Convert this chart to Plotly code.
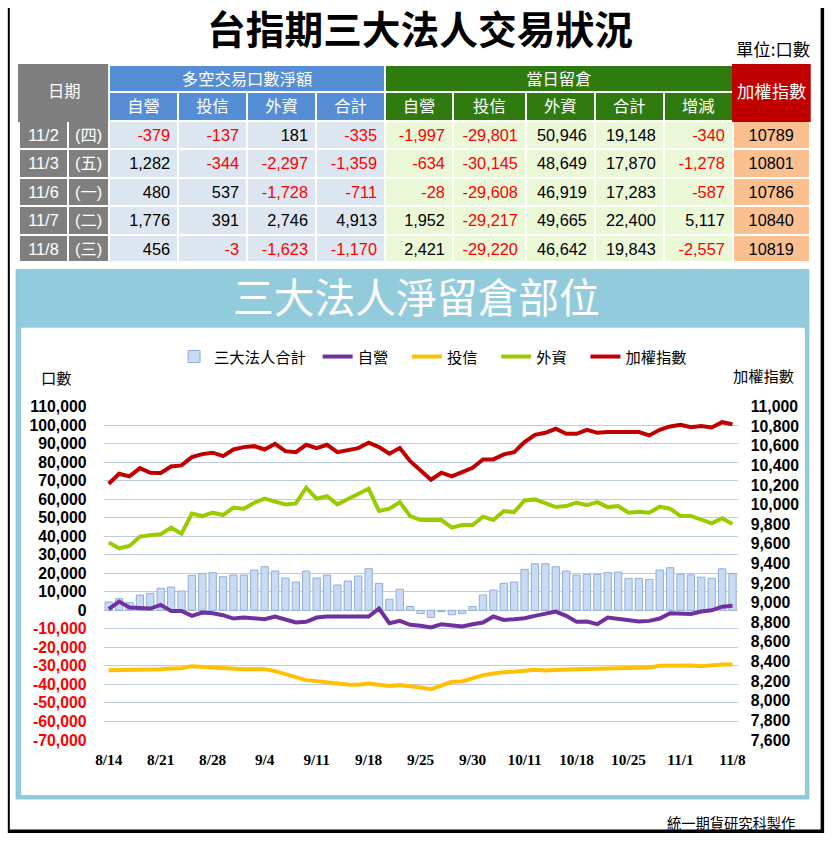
import plotly.graph_objects as go

W, H = 832, 842
# The photographed page is scaled back to 832x842 with an 8px frame around the figure;
# positions below are given in final picture pixels and converted with this mapping.
SX, SY = W / (W + 16), H / (H + 16)
BX, BY = 8 * SX, 8 * SY

# ---------------- chart data ----------------
dates = ['8/14', '8/15', '8/16', '8/17', '8/18', '8/21', '8/22', '8/23', '8/24', '8/25',
         '8/28', '8/29', '8/30', '8/31', '9/1', '9/4', '9/5', '9/6', '9/7', '9/8',
         '9/11', '9/12', '9/13', '9/14', '9/15', '9/18', '9/19', '9/20', '9/21', '9/22',
         '9/25', '9/26', '9/27', '9/28', '9/29', '9/30', '10/2', '10/3', '10/5', '10/6',
         '10/11', '10/12', '10/13', '10/16', '10/17', '10/18', '10/19', '10/20', '10/23', '10/24',
         '10/25', '10/26', '10/27', '10/30', '10/31', '11/1', '11/2', '11/3', '11/6', '11/7', '11/8']

total_oi = [4490, 6290, 4130, 8260, 9160, 11850, 12570, 10420, 18860, 19760,
            20290, 18140, 19040, 19040, 21730, 23530, 21190, 17420, 15270, 21190,
            17420, 19040, 13650, 15800, 18500, 22450, 14550, 5930, 11370, 2050,
            -1800, -3800, -700, -2400, -1800, 2050, 8260, 10960, 14550, 15270,
            22090, 25140, 25140, 23530, 21190, 19040, 19400, 19400, 20300, 20650,
            17240, 17240, 16700, 21730, 22990, 19400, 19148, 17870, 17283, 22400, 19843]

dealer_oi = [590, 4730, 1490, 950, 950, 2930, -310, -310, -3000, -1200,
             -1560, -2640, -4440, -3900, -4260, -4800, -3360, -4800, -6590, -6230,
             -3900, -3360, -3360, -3360, -3360, -3360, 950, -6950, -5700, -7850,
             -8390, -9290, -7490, -8030, -8750, -7490, -6590, -3360, -5160, -4800,
             -4260, -3000, -1560, -660, -3000, -6230, -6050, -7490, -3900, -4800,
             -5160, -6050, -5700, -4440, -1560, -1560, -1997, -634, -28, 1952, 2421]

trust_oi = [-32290, -32290, -32290, -31930, -31930, -31750, -31390, -31210, -30140, -30490,
            -31030, -31390, -31570, -31750, -31750, -31750, -32830, -34450, -35880, -37680,
            -38220, -38580, -39470, -40010, -40190, -39470, -40190, -40910, -40370, -40730,
            -41630, -42530, -40730, -38580, -38400, -36780, -34990, -34090, -33370, -33190,
            -32470, -32110, -32470, -31930, -31930, -31750, -31570, -31570, -31390, -31210,
            -30850, -30670, -30850, -29950, -29770, -29770, -29801, -30145, -29608, -29217, -29220]

foreign_oi = [36540, 33470, 34710, 39770, 40470, 41010, 44620, 41390, 52170, 50870,
              52700, 51410, 55400, 54860, 58090, 60250, 58630, 57180, 57720, 66180,
              60250, 61650, 57180, 59870, 63110, 65640, 53570, 54860, 58420, 50870,
              48720, 48720, 48720, 44620, 46020, 46020, 50550, 48720, 53570, 53030,
              59330, 59870, 57720, 55720, 56260, 58090, 56800, 58420, 55720, 56260,
              52700, 53240, 52700, 55940, 54860, 50870, 50946, 48649, 46919, 49665, 46642]

taiex = [10213, 10315, 10288, 10372, 10325, 10322, 10389, 10400, 10484, 10515,
         10529, 10494, 10562, 10586, 10596, 10562, 10620, 10545, 10535, 10610,
         10576, 10610, 10535, 10552, 10576, 10631, 10586, 10519, 10576, 10443,
         10345, 10254, 10325, 10288, 10332, 10376, 10461, 10461, 10512, 10535,
         10637, 10712, 10732, 10773, 10722, 10722, 10763, 10732, 10739, 10739,
         10749, 10739, 10705, 10763, 10797, 10814, 10789, 10801, 10786, 10840, 10819]

series_names = ['三大法人合計', '自營', '投信', '外資', '加權指數']

left_ticks = list(range(-70000, 110001, 10000))
right_ticks = list(range(7600, 11001, 200))

# ---------------- table data ----------------
t_dates = ['11/2', '11/3', '11/6', '11/7', '11/8']
t_weekdays = ['(四)', '(五)', '(一)', '(二)', '(三)']
trade_dealer = [-379, 1282, 480, 1776, 456]
trade_trust = [-137, -344, 537, 391, -3]
trade_foreign = [181, -2297, -1728, 2746, -1623]
trade_total = [-335, -1359, -711, 4913, -1170]
oi_dealer = [-1997, -634, -28, 1952, 2421]
oi_trust = [-29801, -30145, -29608, -29217, -29220]
oi_foreign = [50946, 48649, 46919, 49665, 46642]
oi_total = [19148, 17870, 17283, 22400, 19843]
oi_change = [-340, -1278, -587, 5117, -2557]
t_index = [10789, 10801, 10786, 10840, 10819]

group_headers = ['', '多空交易口數淨額', '當日留倉', '']
sub_headers = ['', '', '自營', '投信', '外資', '合計', '自營', '投信', '外資', '合計', '增減', '']


def fx(px):
    return min(max(((px - BX) / SX) / W, 0), 1)


def fy(py):
    return min(max(1 - ((py - BY) / SY) / H, 0), 1)


def fs(size):
    return round(size / SX, 2)


CJK = 'Noto Sans CJK TC'
GRAY, BLUE, GREEN, RED = '#7F7F7F', '#558ED5', '#2F7B10', '#C00000'
LBLUE, LGREEN, PEACH = '#DCE6F1', '#EAF8D8', '#FAC090'

fig = go.Figure()

# ---------------- table ----------------
col_edges = [18.6, 68, 109, 178, 247, 316, 385, 453, 526, 595, 664, 733, 810]
col_w = [col_edges[i + 1] - col_edges[i] for i in range(len(col_edges) - 1)]
grp_w = [col_w[0] + col_w[1], sum(col_w[2:6]), sum(col_w[6:11]), col_w[11]]

fig.add_trace(go.Table(
    domain=dict(x=[fx(col_edges[0]), fx(col_edges[-1])], y=[fy(92), fy(65)]),
    columnwidth=grp_w,
    header=dict(values=group_headers, height=27 / SY,
                fill_color=[GRAY, BLUE, GREEN, RED],
                line=dict(color=[GRAY, 'white', 'white', RED], width=2),
                font=dict(family=CJK, size=fs(16), color='white'), align='center'),
    cells=dict(values=[[], [], [], []]),
))

num_cols = [trade_dealer, trade_trust, trade_foreign, trade_total,
            oi_dealer, oi_trust, oi_foreign, oi_total, oi_change]
cell_values = [t_dates, t_weekdays] + [[f"{v:,}" for v in c] for c in num_cols] + [[str(v) for v in t_index]]
cell_fonts = [['white'] * 5, ['white'] * 5] + \
    [['#FF0000' if v < 0 else 'black' for v in c] for c in num_cols] + [['black'] * 5]
cell_fill = [GRAY, GRAY] + [LBLUE] * 4 + [LGREEN] * 5 + [PEACH]
head_fill = [GRAY, GRAY] + [BLUE] * 4 + [GREEN] * 5 + [RED]
head_line = [GRAY, GRAY] + ['white'] * 9 + [RED]

fig.add_trace(go.Table(
    domain=dict(x=[fx(col_edges[0]), fx(col_edges[-1])], y=[fy(262), fy(92)]),
    columnwidth=col_w,
    header=dict(values=sub_headers, height=28 / SY, fill_color=head_fill,
                line=dict(color=head_line, width=2),
                font=dict(family=CJK, size=fs(16), color='white'), align='center'),
    cells=dict(values=cell_values, height=28 / SY, fill_color=cell_fill,
               line=dict(color='white', width=2),
               font=dict(family='Liberation Sans, ' + CJK, size=fs(16), color=cell_fonts),
               align=['center', 'center'] + ['right'] * 9 + ['center']),
))

# ---------------- chart ----------------
PAD1 = '\u00a0\u00a0'
PAD2 = '\u00a0\u00a0\u00a0\u00a0'
fig.add_trace(go.Bar(x=dates, y=total_oi, name=series_names[0] + PAD1,
                     marker=dict(color='#C9DBF2', line=dict(color='#8FAEDB', width=1))))
fig.add_trace(go.Scatter(x=dates, y=dealer_oi, name=series_names[1] + PAD2, mode='lines',
                         line=dict(color='#7030A0', width=4)))
fig.add_trace(go.Scatter(x=dates, y=trust_oi, name=series_names[2] + PAD2, mode='lines',
                         line=dict(color='#FFC000', width=4)))
fig.add_trace(go.Scatter(x=dates, y=foreign_oi, name=series_names[3] + PAD2, mode='lines',
                         line=dict(color='#99CC00', width=4)))
fig.add_trace(go.Scatter(x=dates, y=taiex, name=series_names[4], mode='lines', yaxis='y2',
                         line=dict(color='#C00000', width=4)))

ymin, ymax = left_ticks[0], left_ticks[-1]
ydom = [fy(741), fy(407)]
zero_pos = ydom[0] + (0 - ymin) / (ymax - ymin) * (ydom[1] - ydom[0])
xrange_ = [-0.5, len(dates) - 0.5]

left_text = [f"<b>{v:,}</b>" if v >= 0 else f"<span style='color:#FF0000'><b>{v:,}</b></span>"
             for v in left_ticks]

fig.update_layout(
    width=W, height=H, margin=dict(l=0, r=0, t=0, b=0),
    paper_bgcolor='white', plot_bgcolor='rgba(0,0,0,0)',
    font=dict(family=CJK, color='black'),
    bargap=0.3,
    showlegend=True,
    legend=dict(orientation='h', x=fx(174), xanchor='left', y=fy(357), yanchor='middle',
                font=dict(family=CJK, size=fs(15)), itemwidth=30, bgcolor='rgba(0,0,0,0)',
                traceorder='normal'),
    xaxis=dict(domain=[fx(103.4), fx(737.8)], type='category', categoryorder='array',
               categoryarray=dates, range=xrange_, tickmode='array', tickvals=dates[::5],
               ticktext=dates[::5],
               tickfont=dict(family='Liberation Serif', size=fs(15), weight='bold'),
               showgrid=False, zeroline=False, showline=False, ticks='', ticklabelstandoff=9),
    xaxis2=dict(overlaying='x', anchor='free', position=zero_pos, type='linear', range=xrange_,
                tickmode='array', tickvals=[k + 0.5 for k in range(-1, len(dates))],
                ticks='outside', ticklen=4, tickcolor='black', tickwidth=1,
                showline=True, linecolor='black', linewidth=1.5,
                showticklabels=False, showgrid=False, zeroline=False),
    yaxis=dict(domain=ydom, range=[ymin, ymax], tickmode='array', tickvals=left_ticks,
               ticktext=left_text,
               tickfont=dict(family='Liberation Sans', size=fs(15.5), color='black'),
               showgrid=True, gridcolor='#BCCCE6', gridwidth=1, zeroline=False, ticks='',
               ticklabelstandoff=16),
    yaxis2=dict(overlaying='y', side='right', range=[right_ticks[0], right_ticks[-1]],
                tickmode='array', tickvals=right_ticks, tickformat=',d',
                tickfont=dict(family='Liberation Sans', size=fs(15.5), color='black', weight='bold'),
                showgrid=False, zeroline=False, ticks='', ticklabelstandoff=12),
)

# ---------------- decorations ----------------
shapes = [
    # outer frame (left, right, bottom)
    dict(type='line', xref='paper', yref='paper', x0=0.001, x1=0.001, y0=0, y1=1,
         line=dict(color='black', width=2), layer='below'),
    dict(type='line', xref='paper', yref='paper', x0=0.998, x1=0.998, y0=0, y1=1,
         line=dict(color='black', width=3.5), layer='below'),
    dict(type='line', xref='paper', yref='paper', x0=0, x1=1, y0=0.002, y1=0.002,
         line=dict(color='black', width=3.5), layer='below'),
    # chart panel
    dict(type='rect', xref='paper', yref='paper', x0=fx(16), x1=fx(809), y0=fy(800), y1=fy(270),
         line=dict(color='#86C0D3', width=1), fillcolor='#92CBDC', layer='below'),
    dict(type='rect', xref='paper', yref='paper', x0=fx(21), x1=fx(805), y0=fy(796), y1=fy(328),
         line=dict(width=0), fillcolor='white', layer='below'),
]
fig.update_layout(shapes=shapes)


def ann(text, x, y, size, color='black', family=CJK, xanchor='center', **kw):
    fig.add_annotation(text=text, x=fx(x), y=fy(y), xref='paper', yref='paper',
                       showarrow=False, xanchor=xanchor, yanchor='middle',
                       font=dict(family=family, size=fs(size), color=color), **kw)


ann('<b>台指期三大法人交易狀況</b>', 420, 27, 38)
ann('單位:口數', 812, 48, 17, xanchor='right')
ann('日期', 64, 90, 16, color='white')
ann('加權指數', 771.5, 90, 17, color='white')
ann('三大法人淨留倉部位', 416, 296, 40, color='white')
ann('口數', 56, 377, 15)
ann('加權指數', 764, 375, 15)
ann('統一期貨研究科製作', 797, 824, 14, xanchor='right')

# remove the default body margin right after the plot call
fix_css = ("}); document.body.style.margin='0'; "
           "document.documentElement.style.overflow='hidden'; "
           "document.body.style.overflow='hidden'; Promise.resolve().then(function(){")
fig.write_html("out.html", config={'displayModeBar': False}, post_script=fix_css)
